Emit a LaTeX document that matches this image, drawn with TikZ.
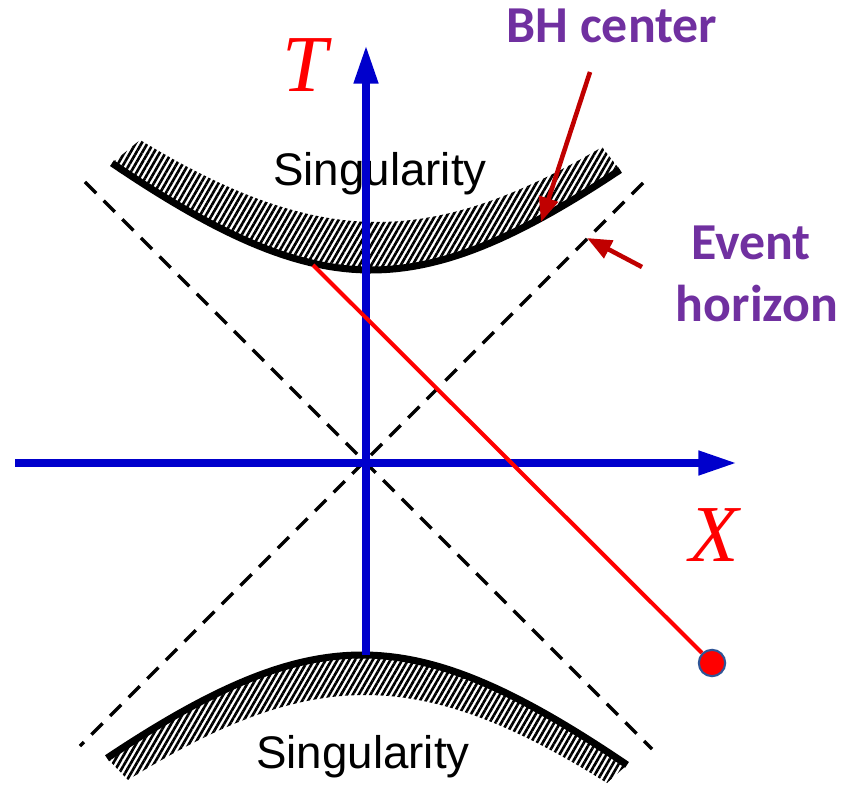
\documentclass[tikz,border=0pt]{standalone}
\usepackage{fontspec}
\usepackage{xcolor}
\usepackage{tikz}
\setmainfont{Liberation Sans}
\newfontfamily\notefont{Carlito}
\newfontfamily\axisfont{Liberation Serif}
\definecolor{axisblue}{HTML}{0000CC}
\definecolor{pathred}{HTML}{FF0000}
\definecolor{pointerred}{HTML}{C00000}
\definecolor{notepurple}{HTML}{7030A0}
\definecolor{dotedge}{HTML}{2F5597}
\usetikzlibrary{arrows.meta, positioning, patterns.meta}

\begin{document}
\begin{tikzpicture}[
    x=0.02cm, y=-0.02cm,
    axisarrow/.style={-{Triangle[length=22pt, width=13pt]}, line width=4.5pt, axisblue},
    horizonline/.style={dash pattern=on 9pt off 6pt, line width=2pt},
    bandfill/.style={pattern={Lines[angle=60, distance=2.9pt, line width=1.5pt]}},
    bandedge/.style={line width=4pt},
    pathline/.style={pathred, line width=2.3pt},
    pointer/.style={-{Triangle[length=14pt, width=11pt]}, line width=2.6pt, pointerred},
    dotnode/.style={circle, minimum size=15pt, inner sep=0pt, fill=pathred, draw=dotedge, line width=1.2pt},
    singtext/.style={anchor=base, font=\fontsize{26}{30}\selectfont},
    notetext/.style={anchor=base, text=notepurple, font=\notefont\bfseries\fontsize{29.5}{33}\selectfont},
    axislabel/.style={text=pathred, font=\axisfont\itshape\fontsize{46}{50}\selectfont}
]
    \useasboundingbox (0,0) rectangle (841,786);

    % Horizons
    \coordinate (hl1) at (85,182);
    \coordinate (hl2) at (652,749);
    \coordinate (hr1) at (643,183);
    \coordinate (hr2) at (80,746);
    \draw[horizonline] (hl1) -- (hl2);
    \draw[horizonline] (hr1) -- (hr2);

    % Upper singularity
    \fill[bandfill] plot[domain=140:602, samples=60] (\x, {463 - 10*sqrt(580.81 + 0.824*((\x-377)/10)^2)})
        -- plot[domain=620:112, samples=60] (\x, {463 - 10*sqrt(372.49 + 0.785*((\x-371)/10)^2)}) -- cycle;
    \draw[bandedge] plot[domain=112:620, samples=60] (\x, {463 - 10*sqrt(372.49 + 0.785*((\x-371)/10)^2)});
    \node[singtext] (singtop) at (380,186) {Singularity};

    % Lower singularity
    \fill[bandfill] plot[domain=128:607, samples=60] (\x, {463 + 10*sqrt(538.24 + 0.83*((\x-365)/10)^2)})
        -- plot[domain=627:107, samples=60] (\x, {463 + 10*sqrt(368.64 + 0.773*((\x-362)/10)^2)}) -- cycle;
    \draw[bandedge] plot[domain=107:627, samples=60] (\x, {463 + 10*sqrt(368.64 + 0.773*((\x-362)/10)^2)});
    \node[singtext] (singbot) at (363,768) {Singularity};

    % Axes
    \coordinate (xstart) at (15,463);
    \coordinate (xend) at (737,463);
    \coordinate (tstart) at (366,655);
    \coordinate (tend) at (366,45);
    \draw[axisarrow] (xstart) -- (xend);
    \draw[axisarrow] (tstart) -- (tend);
    \node[axislabel] (tlabel) at (305,65) {T};
    \node[axislabel] (xlabel) at (714,535) {X};

    % Infalling path
    \coordinate (hit) at (313,265);
    \node[dotnode] (dot) at (712,663) {};
    \draw[pathline] (hit) -- (dot);

    % Notes
    \node[notetext] (bh) at (612,43) {BH center};
    \node[notetext] (event) at (751,260) {Event};
    \node[notetext] (horizon) at (757,322) {horizon};
    \coordinate (bhtail) at (590,72);
    \coordinate (bhtip) at (541,222);
    \coordinate (evtail) at (642,267);
    \coordinate (evtip) at (587,238);
    \draw[pointer] (bhtail) -- (bhtip);
    \draw[pointer] (evtail) -- (evtip);
\end{tikzpicture}
\end{document}
